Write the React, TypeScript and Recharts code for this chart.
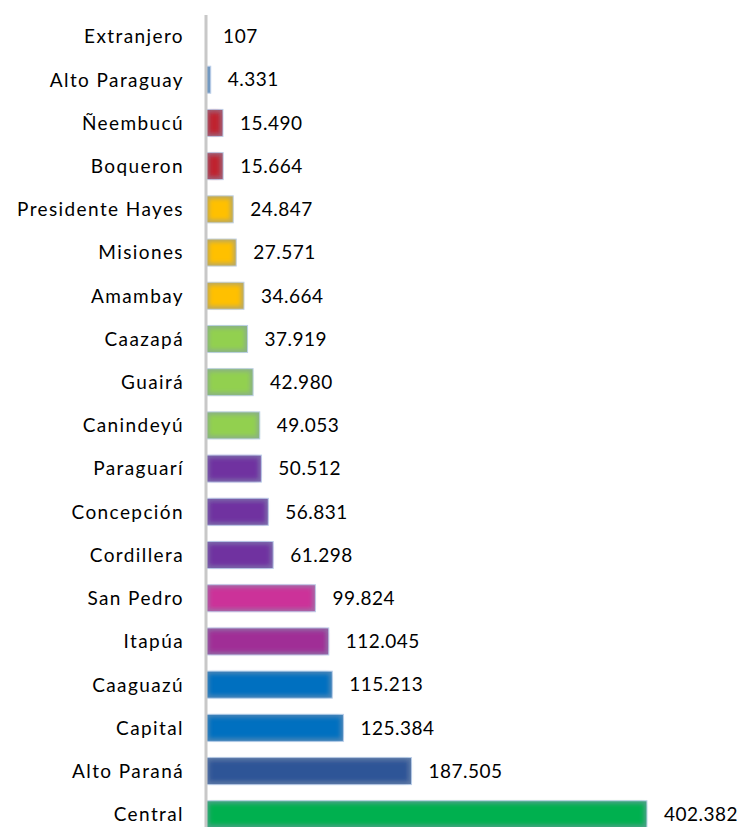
import { BarChart, Bar, XAxis, YAxis, LabelList, Cell } from "recharts";

const departments = [
  "Extranjero", "Alto Paraguay", "Ñeembucú", "Boqueron", "Presidente Hayes",
  "Misiones", "Amambay", "Caazapá", "Guairá", "Canindeyú", "Paraguarí",
  "Concepción", "Cordillera", "San Pedro", "Itapúa", "Caaguazú", "Capital",
  "Alto Paraná", "Central",
];

const population = [
  107, 4331, 15490, 15664, 24847, 27571, 34664, 37919, 42980, 49053, 50512,
  56831, 61298, 99824, 112045, 115213, 125384, 187505, 402382,
];

const COLORS = [
  "#5b9bd5", "#5b9bd5", "#c0202e", "#c0202e", "#ffc000", "#ffc000", "#ffc000",
  "#92d050", "#92d050", "#92d050", "#7030a0", "#7030a0", "#7030a0", "#cc3399",
  "#a02d96", "#0070c0", "#0070c0", "#2f5597", "#00b050",
];

const data = departments.map((name, i) => ({ name, value: population[i] }));

const fmt = (v: number) => String(v).replace(/\B(?=(\d{3})+(?!\d))/g, ".");

const mix = (a: string, b: string, t: number) => {
  const pa = [1, 3, 5].map((k) => parseInt(a.slice(k, k + 2), 16));
  const pb = [1, 3, 5].map((k) => parseInt(b.slice(k, k + 2), 16));
  return (
    "#" +
    pa
      .map((c, i) => Math.round(c * (1 - t) + pb[i] * t).toString(16).padStart(2, "0"))
      .join("")
  );
};

const SoftBar = (props: any) => {
  const { x, y, width, height, fill } = props;
  if (!width || width < 0.5) return <g />;
  return (
    <g>
      <rect x={x} y={y} width={width} height={height} fill={mix(fill, "#8497b0", 0.55)} stroke="#bdd0ea" strokeWidth={1} />
      <rect
        x={x + 3}
        y={y + 3}
        width={Math.max(0, width - 6)}
        height={height - 6}
        fill={fill}
        filter="url(#soft)"
      />
    </g>
  );
};

export default function App() {
  return (
    <div style={{ height: 819, overflow: "hidden" }}>
      <BarChart
        width={737}
        height={828}
        data={data}
        layout="vertical"
        barSize={27}
        margin={{ top: 7, right: 13, left: 0, bottom: 0 }}
        style={{ fontFamily: "Lato, sans-serif" }}
      >
        <defs>
          <filter id="soft" x="-20%" y="-20%" width="140%" height="140%">
            <feGaussianBlur stdDeviation="2" />
          </filter>
        </defs>
        <XAxis type="number" domain={[0, 480000]} hide />
        <YAxis
          type="category"
          dataKey="name"
          width={198}
          tickLine={false}
          tickMargin={16}
          axisLine={{ stroke: "#c8c8c8", strokeWidth: 3 }}
          tick={{ fontSize: 19, fill: "#000", letterSpacing: 1.4 }}
          interval={0}
        />
        <Bar dataKey="value" shape={SoftBar} isAnimationActive={false}>
          {data.map((_, i) => (
            <Cell key={i} fill={COLORS[i]} />
          ))}
          <LabelList
            dataKey="value"
            position="right"
            offset={17}
            formatter={(v: any) => fmt(Number(v))}
            style={{ fontSize: 19, fill: "#000", letterSpacing: 0.5 }}
          />
        </Bar>
      </BarChart>
    </div>
  );
}
